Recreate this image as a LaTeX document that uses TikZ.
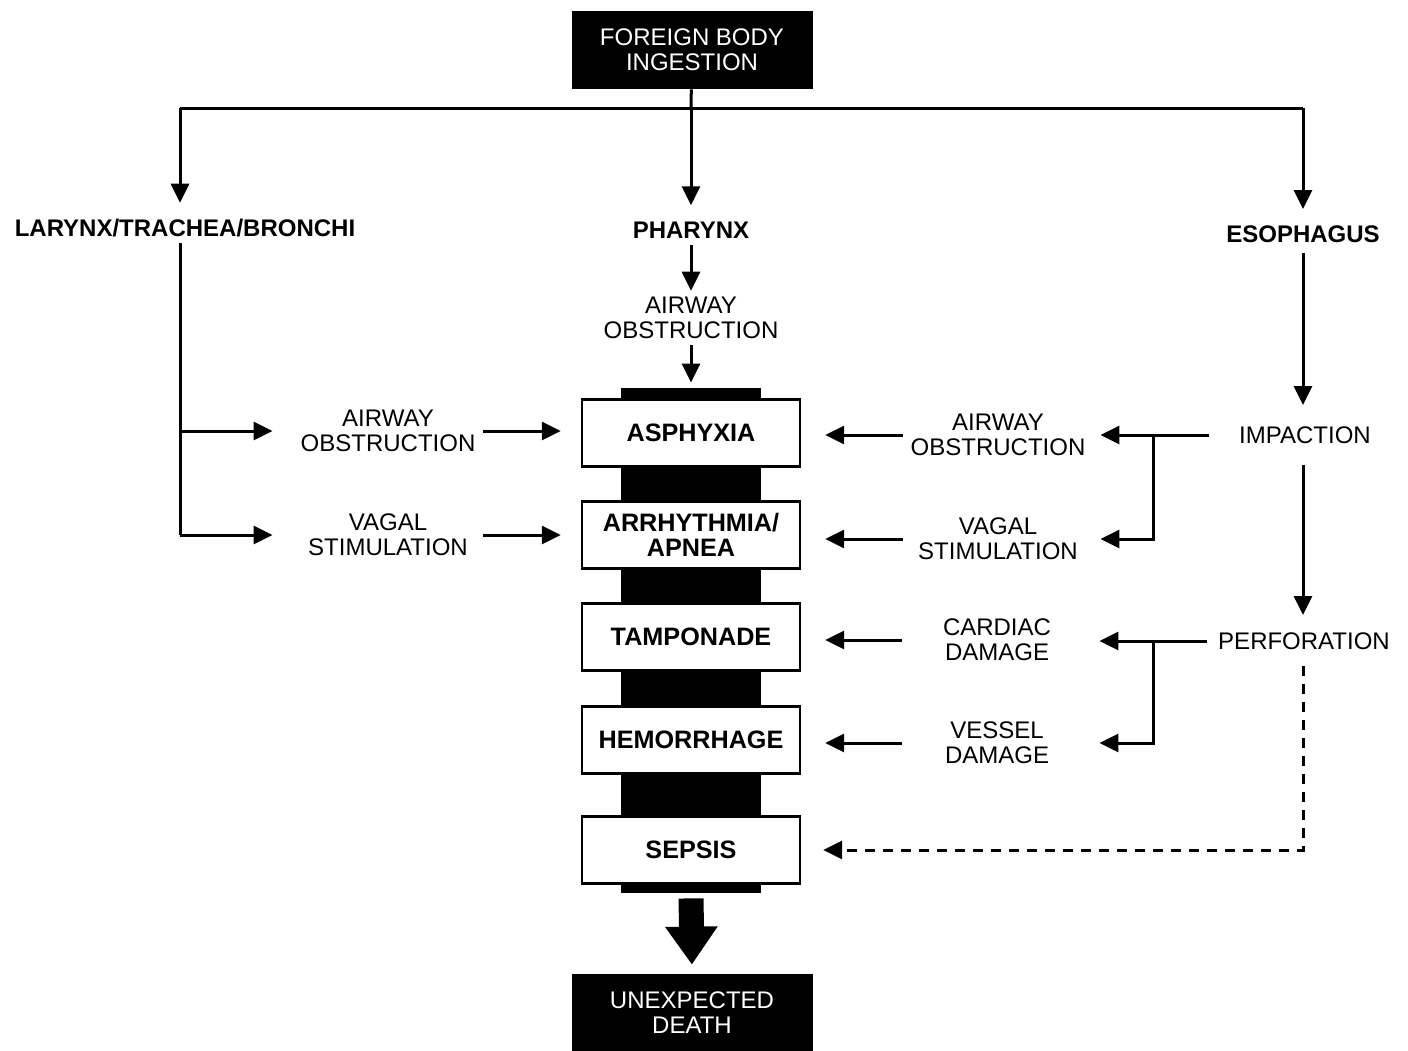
\documentclass[tikz,border=0pt]{standalone}
\usepackage{fontspec}
\setmainfont{Liberation Sans}
\usetikzlibrary{arrows.meta}
\tikzset{
  every node/.style={inner sep=3pt, align=center, font=\fontsize{12}{12.5}\selectfont},
  endbox/.style={fill=black, text=white, minimum width=120.5pt, minimum height=39pt},
  site/.style={font=\fontsize{12}{12.5}\selectfont\bfseries},
  cause/.style={minimum width=95pt},
  stage/.style={draw, fill=white, line width=1.2pt, minimum width=109pt, minimum height=33.5pt,
    font=\fontsize{12.6}{12.5}\selectfont\bfseries},
  link/.style={line width=1.5pt},
  flow/.style={line width=1.5pt, -{Triangle[length=9.5pt,width=9pt]}}
}
\begin{document}
\begin{tikzpicture}[x=0.5pt,y=-0.5pt]
      \useasboundingbox (0,0) rectangle (1408,1050);
      \node[fill=black, minimum width=70pt, minimum height=252.5pt, inner sep=0pt] (bar) at (691,640.5) {};
      \node[endbox] (fbi) at (692,50) {FOREIGN BODY\\INGESTION};
      \node[site] (lar) at (185,228) {LARYNX/TRACHEA/BRONCHI};
      \node[site] (pha) at (691,230) {PHARYNX};
      \node[site] (eso) at (1303,234) {ESOPHAGUS};
      \node (pao) at (691,318) {AIRWAY\\OBSTRUCTION};
      \node[cause] (lao) at (388,431) {AIRWAY\\OBSTRUCTION};
      \node[cause] (lvs) at (388,535) {VAGAL\\STIMULATION};
      \node[stage] (asp) at (691,433) {ASPHYXIA};
      \node[stage] (arr) at (691,535) {ARRHYTHMIA/\\APNEA};
      \node[stage] (tam) at (691,637) {TAMPONADE};
      \node[stage] (hem) at (691,740) {HEMORRHAGE};
      \node[stage] (sep) at (691,850) {SEPSIS};
      \node[cause] (rao) at (998,435) {AIRWAY\\OBSTRUCTION};
      \node[cause] (rvs) at (998,539) {VAGAL\\STIMULATION};
      \node[cause] (cd) at (997,640) {CARDIAC\\DAMAGE};
      \node[cause] (vd) at (997,743) {VESSEL\\DAMAGE};
      \node (imp) at (1305,435) {IMPACTION};
      \node (per) at (1304,641) {PERFORATION};
      \node[endbox] (ud) at (692,1013) {UNEXPECTED\\DEATH};
      \coordinate (split) at (691,108);
      \coordinate (splitl) at (180,108);
      \coordinate (splitr) at (1303,108);
      \coordinate (lbend) at (180,535);
      \coordinate (rbend1) at (1153,435);
      \coordinate (rbend2) at (1153,641);
      \begin{scope}[link]
        \draw (fbi) -- (split);
        \draw (splitl) -- (splitr);
        \draw (lar.south -| lbend) -- (lbend);
      \end{scope}
      \begin{scope}[flow]
        \draw[shorten >=5pt] (splitl) -- (splitl |- lar.north);
        \draw[shorten >=5pt] (split) -- (split |- pha.north);
        \draw[shorten >=5pt] (splitr) -- (splitr |- eso.north);
        \draw (pha) -- (pao);
        \draw[shorten >=2.5pt] (pao) -- (bar.north);
        \draw[shorten >=10pt] (lbend |- lao) -- (lao.west);
        \draw[shorten >=10pt] (lbend) -- (lbend -| lvs.west);
        \draw[shorten >=10pt] (lao.east) -- (lao.east -| asp.west);
        \draw[shorten >=10pt] (lvs.east) -- (lvs.east -| arr.west);
        \draw[shorten >=12pt] (rao.west) -- (rao.west -| asp.east);
        \draw[shorten >=12pt] (rvs.west) -- (rvs.west -| arr.east);
        \draw[shorten >=12pt] (cd.west) -- (cd.west -| tam.east);
        \draw[shorten >=12pt] (vd.west) -- (vd.west -| hem.east);
        \draw[shorten <=12pt, shorten >=3.5pt] (imp.west) -- (imp.west -| rao.east);
        \draw[shorten >=3.5pt] (rbend1) |- (rvs.east);
        \draw[shorten <=2.5pt, shorten >=3.5pt] (per.west) -- (per.west -| cd.east);
        \draw[shorten >=3.5pt] (rbend2) |- (vd.east);
        \draw[shorten <=2pt, shorten >=7.5pt] (eso.south) -- (eso.south |- imp.north);
        \draw[shorten <=7.5pt, shorten >=5.5pt] (imp.south -| eso) -- (eso |- per.north);
        \draw[dash pattern=on 5pt off 4pt, shorten <=5pt, shorten >=11pt] (per.south -| eso) |- (sep.east);
      \end{scope}
      \draw[line width=12.5pt, -{Triangle[length=19pt,width=25pt]}, shorten <=2.5pt, shorten >=4.5pt] (bar.south) -- (ud.north);
    \end{tikzpicture}
\end{document}
